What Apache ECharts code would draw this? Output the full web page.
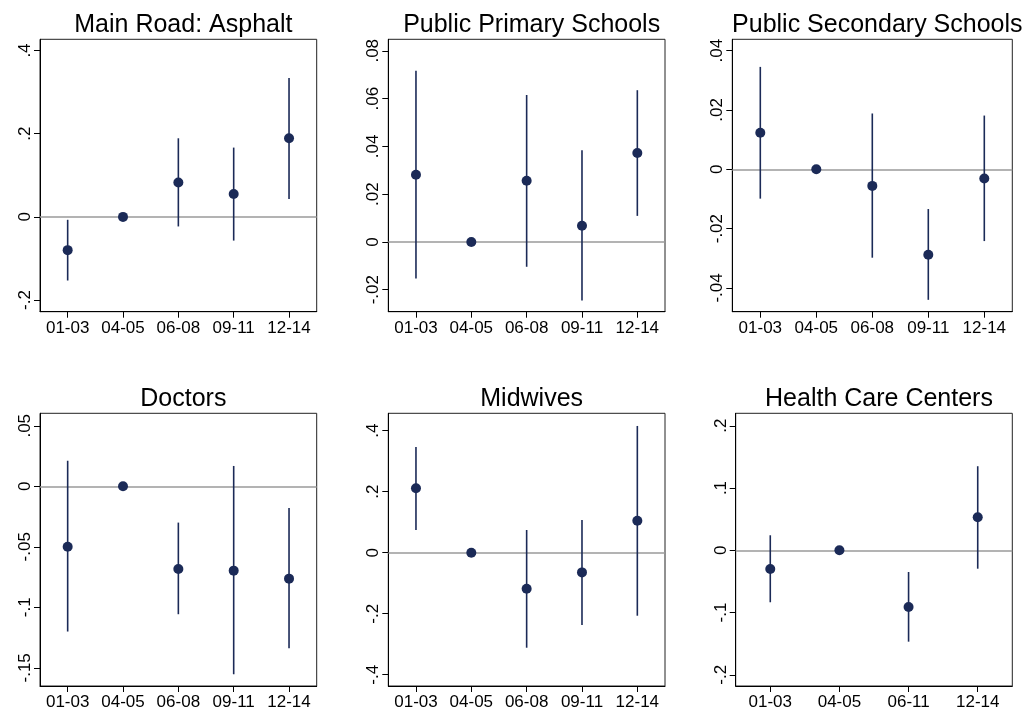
<!DOCTYPE html>
<html>
<head>
<meta charset="utf-8">
<script src="https://cdn.jsdelivr.net/npm/echarts@6/dist/echarts.min.js"></script>
<style>
html,body{margin:0;padding:0;background:#fff;}
#chart{width:1025px;height:714px;}
</style>
</head>
<body>
<div id="chart"></div>
<script>
// ---------- DATA ----------
const titles = ['Main Road: Asphalt','Public Primary Schools','Public Secondary Schools','Doctors','Midwives','Health Care Centers'];
const periods5 = ['01-03','04-05','06-08','09-11','12-14'];
const periods4 = ['01-03','04-05','06-11','12-14'];

const roadEst   = [-0.080, 0, 0.0825, 0.055, 0.189];
const roadLo    = [-0.153, null, -0.023, -0.057, 0.043];
const roadHi    = [-0.007, null, 0.189, 0.1666, 0.334];

const primEst   = [0.0281, 0, 0.0256, 0.0068, 0.0372];
const primLo    = [-0.0153, null, -0.0104, -0.0245, 0.0109];
const primHi    = [0.0716, null, 0.0615, 0.0384, 0.0635];

const secEst    = [0.0123, 0, -0.0056, -0.0288, -0.0031];
const secLo     = [-0.0099, null, -0.0298, -0.0440, -0.0242];
const secHi     = [0.0345, null, 0.0188, -0.0134, 0.0181];

const docEst    = [-0.0499, 0, -0.0683, -0.0697, -0.0763];
const docLo     = [-0.1200, null, -0.1057, -0.1553, -0.1338];
const docHi     = [0.0211, null, -0.0300, 0.0168, -0.0179];

const midEst    = [0.211, 0, -0.118, -0.0645, 0.105];
const midLo     = [0.0744, null, -0.3115, -0.237, -0.2066];
const midHi     = [0.3466, null, 0.0744, 0.107, 0.4155];

const hccEst    = [-0.030, 0, -0.091, 0.053];
const hccLo     = [-0.0835, null, -0.1468, -0.0296];
const hccHi     = [0.0241, null, -0.0349, 0.135];

const ticks1 = [-0.2, 0, 0.2, 0.4];
const ticks2 = [-0.02, 0, 0.02, 0.04, 0.06, 0.08];
const ticks3 = [-0.04, -0.02, 0, 0.02, 0.04];
const ticks4 = [-0.15, -0.1, -0.05, 0, 0.05];
const ticks5 = [-0.4, -0.2, 0, 0.2, 0.4];
const ticks6 = [-0.2, -0.1, 0, 0.1, 0.2];

// ---------- LAYOUT ----------
const panels = [
  {cats: periods5, est: roadEst, lo: roadLo, hi: roadHi, ticks: ticks1, ymin: -0.228, ymax: 0.427, left: 40, top: 39.3, width: 276.7, height: 272.4},
  {cats: periods5, est: primEst, lo: primLo, hi: primHi, ticks: ticks2, ymin: -0.0292, ymax: 0.0848, left: 388.3, top: 39.3, width: 276.7, height: 272.4},
  {cats: periods5, est: secEst, lo: secLo, hi: secHi, ticks: ticks3, ymin: -0.048, ymax: 0.0438, left: 732.3, top: 39.3, width: 280, height: 272.4},
  {cats: periods5, est: docEst, lo: docLo, hi: docHi, ticks: ticks4, ymin: -0.165, ymax: 0.0603, left: 40, top: 413.3, width: 276.7, height: 272.7},
  {cats: periods5, est: midEst, lo: midLo, hi: midHi, ticks: ticks5, ymin: -0.437, ymax: 0.457, left: 388.3, top: 413.3, width: 276.7, height: 272.7},
  {cats: periods4, est: hccEst, lo: hccLo, hi: hccHi, ticks: ticks6, ymin: -0.218, ymax: 0.22, left: 735.7, top: 413.3, width: 276.6, height: 272.7}
];

const NAVY = '#1b2a57';
const FONT = '"Liberation Sans", Arial, sans-serif';
const fmt = v => {
  if (Math.abs(v) < 1e-12) return '0';
  let s = String(+v.toFixed(4));
  return s.replace('0.', '.');
};

const option = {
  animation: false,
  backgroundColor: '#fff',
  title: [], grid: [], xAxis: [], yAxis: [], series: []
};

panels.forEach((p, i) => {
  option.title.push({
    text: titles[i],
    left: p.left + p.width / 2,
    top: p.top - 32,
    textAlign: 'center',
    textStyle: {fontFamily: FONT, fontSize: 25, fontWeight: 'normal', color: '#000'}
  });
  option.grid.push({
    left: p.left, top: p.top, width: p.width, height: p.height,
    show: true, borderColor: '#222', borderWidth: 1, backgroundColor: '#fff'
  });
  option.xAxis.push({
    type: 'category', gridIndex: i, data: p.cats, boundaryGap: true,
    axisLine: {show: true, onZero: false, lineStyle: {color: '#000', width: 1}},
    axisTick: {show: true, alignWithLabel: true, length: 6, lineStyle: {color: '#000', width: 1}},
    axisLabel: {show: true, interval: 0, margin: 8, color: '#000', fontFamily: FONT, fontSize: 17},
    splitLine: {show: false}
  });
  option.yAxis.push({
    type: 'value', gridIndex: i, min: p.ymin, max: p.ymax,
    axisLine: {show: true, onZero: false, lineStyle: {color: '#000', width: 1}},
    axisTick: {show: true, length: 6, customValues: p.ticks, lineStyle: {color: '#000', width: 1}},
    axisLabel: {show: true, customValues: p.ticks, rotate: 90, margin: 6, color: '#000', fontFamily: FONT, fontSize: 17, formatter: fmt},
    splitLine: {show: false}
  });
  const ci = [];
  p.est.forEach((e, k) => { if (p.lo[k] !== null) ci.push([k, p.lo[k], p.hi[k]]); });
  option.series.push({
    type: 'custom', xAxisIndex: i, yAxisIndex: i, z: 2,
    data: ci,
    encode: {x: 0, y: [1, 2]},
    renderItem: (params, api) => {
      const x = api.value(0);
      const a = api.coord([x, api.value(1)]);
      const b = api.coord([x, api.value(2)]);
      return {type: 'line', shape: {x1: a[0], y1: a[1], x2: b[0], y2: b[1]}, style: {stroke: NAVY, lineWidth: 1.6}};
    },
    markLine: {
      silent: true, symbol: 'none', z: 1,
      label: {show: false},
      lineStyle: {color: '#9a9a9a', width: 1.6, type: 'solid'},
      data: [{yAxis: 0}]
    }
  });
  option.series.push({
    type: 'scatter', xAxisIndex: i, yAxisIndex: i, z: 3,
    data: p.est, symbol: 'circle', symbolSize: 10,
    itemStyle: {color: NAVY, opacity: 1}
  });
});

const chart = echarts.init(document.getElementById('chart'), null, {renderer: 'canvas'});
chart.setOption(option);
</script>
</body>
</html>
